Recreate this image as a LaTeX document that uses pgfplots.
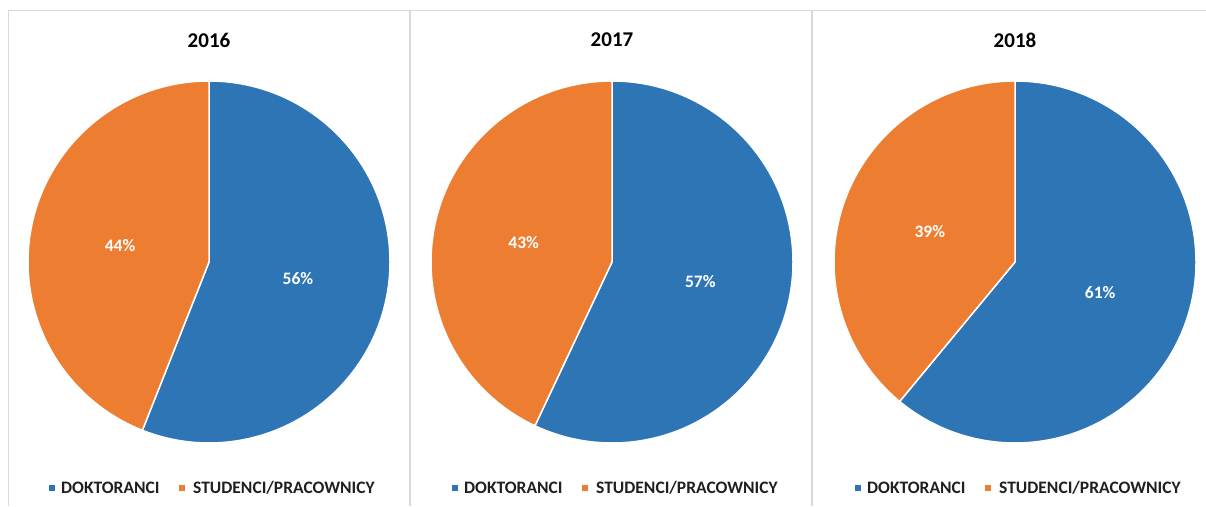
\documentclass[border=0pt]{standalone}
\usepackage{pgfplots}
\pgfplotsset{compat=1.18}
\usepackage{pgfplotstable}
\usepackage{fontspec}
\setmainfont{Carlito}
\definecolor{dblue}{HTML}{2E75B6}
\definecolor{dorange}{HTML}{ED7D31}
\definecolor{panel}{HTML}{D9D9D9}

\pgfplotstableread{
year dokt stud
2016 56 44
2017 57 43
2018 61 39
}\piedata

\newcommand{\onepie}[3]{% #1 row, #2 center x (pt), #3 year
  \pgfplotstablegetelem{#1}{dokt}\of\piedata \edef\vD{\pgfplotsretval}%
  \pgfplotstablegetelem{#1}{stud}\of\piedata \edef\vS{\pgfplotsretval}%
  \pgfmathsetmacro\angD{90-3.6*\vD}%
  \pgfmathsetmacro\angS{90+3.6*\vS}%
  \pgfmathsetmacro\midD{90-1.8*\vD}%
  \pgfmathsetmacro\midS{90+1.8*\vS}%
  \begin{axis}[at={(#2pt,244pt)}, anchor=center, scale only axis,
      width=362pt, height=362pt, xmin=-1, xmax=1, ymin=-1, ymax=1,
      hide axis, clip=false]
    \fill[dblue, draw=white, line width=1.5pt, line join=round]
      (axis cs:0,0) -- (axis cs:0,1) arc[start angle=90, end angle=\angD, radius=181pt] -- cycle;
    \fill[dorange, draw=white, line width=1.5pt, line join=round]
      (axis cs:0,0) -- (axis cs:0,1) arc[start angle=90, end angle=\angS, radius=181pt] -- cycle;
    \node[text=white, font=\bfseries\fontsize{17.5}{20}\selectfont]
      at (axis cs:{0.5*cos(\midD)},{0.5*sin(\midD)}) {\vD\%};
    \node[text=white, font=\bfseries\fontsize{17.5}{20}\selectfont]
      at (axis cs:{0.5*cos(\midS)},{0.5*sin(\midS)}) {\vS\%};
  \end{axis}
  \begin{scope}[x=1pt, y=1pt]
    \node[font=\bfseries\fontsize{21}{24}\selectfont, text=black] at (#2, 466) {#3};
    \fill[dblue] (#2-160, 15) rectangle ++(6,6);
    \node[anchor=west, inner sep=0pt, font=\bfseries\fontsize{17.5}{20}\selectfont, text=black!88] at (#2-148, 18) {DOKTORANCI};
    \fill[dorange] (#2-30, 15) rectangle ++(6,6);
    \node[anchor=west, inner sep=0pt, font=\bfseries\fontsize{17.5}{20}\selectfont, text=black!88] at (#2-16, 18) {STUDENCI/PRACOWNICY};
  \end{scope}
}

\begin{document}
\begin{tikzpicture}
  \useasboundingbox (0pt,0pt) rectangle (1206pt,506pt);
  \begin{scope}[x=1pt, y=1pt]
    \draw[panel, line width=1.2pt] (8.5,0) -- (8.5,495.5) -- (1206,495.5);
    \draw[panel, line width=1.2pt] (410,495.5) -- (410,0);
    \draw[panel, line width=1.2pt] (812,495.5) -- (812,0);
  \end{scope}
  \onepie{0}{209}{2016}
  \onepie{1}{612}{2017}
  \onepie{2}{1015}{2018}
\end{tikzpicture}
\end{document}
